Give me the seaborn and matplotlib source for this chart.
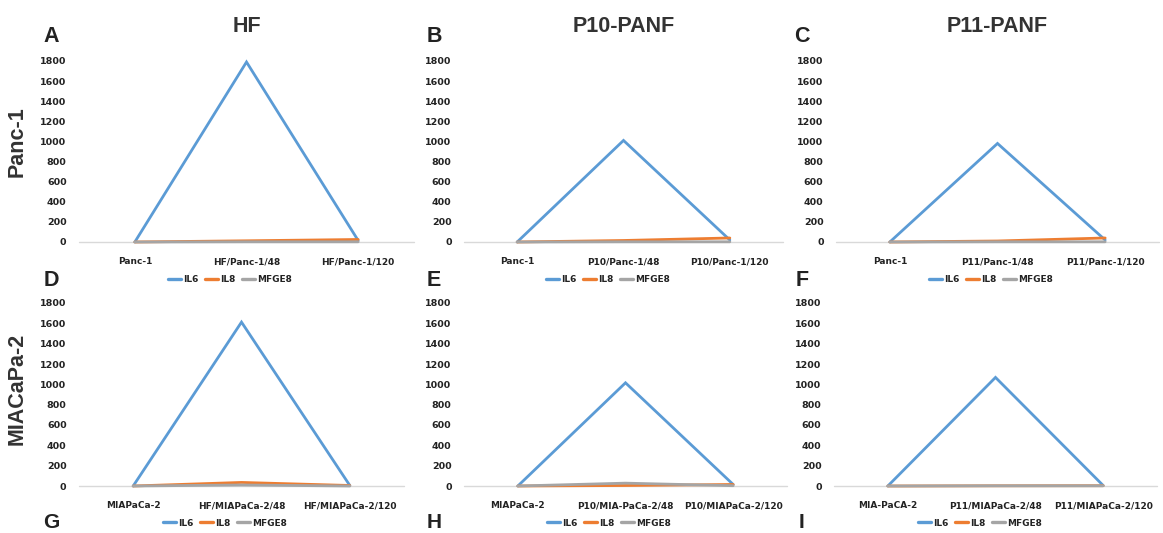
import numpy as np
import pandas as pd
import matplotlib
matplotlib.use("Agg")
import matplotlib.pyplot as plt
import seaborn as sns
from matplotlib.lines import Line2D

sns.set_style("white")
plt.rcParams['font.family'] = ['DejaVu Sans']

W, H = 1163, 533

cytokines = ["IL6", "IL8", "MFGE8"]
colors = ["#5B9BD5", "#ED7D31", "#A5A5A5"]

conds_A = ["Panc-1", "HF/Panc-1/48", "HF/Panc-1/120"]
conds_B = ["Panc-1", "P10/Panc-1/48", "P10/Panc-1/120"]
conds_C = ["Panc-1", "P11/Panc-1/48", "P11/Panc-1/120"]
conds_D = ["MIAPaCa-2", "HF/MIAPaCa-2/48", "HF/MIAPaCa-2/120"]
conds_E = ["MIAPaCa-2", "P10/MIA-PaCa-2/48", "P10/MIAPaCa-2/120"]
conds_F = ["MIA-PaCA-2", "P11/MIAPaCa-2/48", "P11/MIAPaCa-2/120"]

il6_A = [0, 1790, 15]
il8_A = [0, 12, 25]
mfge8_A = [0, 2, 2]
il6_B = [0, 1010, 20]
il8_B = [0, 15, 40]
mfge8_B = [0, 2, 2]
il6_C = [0, 980, 20]
il8_C = [0, 10, 40]
mfge8_C = [0, 2, 2]
il6_D = [0, 1612, 5]
il8_D = [0, 35, 5]
mfge8_D = [0, 10, 0]
il6_E = [0, 1015, 15]
il8_E = [0, 5, 15]
mfge8_E = [0, 28, 3]
il6_F = [0, 1068, 5]
il8_F = [0, 2, 3]
mfge8_F = [0, 2, 2]

col_titles = ["HF", "P10-PANF", "P11-PANF"]
row_titles = ["Panc-1", "MIACaPa-2"]
panel_letters = ["A", "B", "C", "D", "E", "F"]
legend_letters = ["D", "E", "F", "G", "H", "I"]
yticks = list(range(0, 1801, 200))

panels = [
    (conds_A, il6_A, il8_A, mfge8_A),
    (conds_B, il6_B, il8_B, mfge8_B),
    (conds_C, il6_C, il8_C, mfge8_C),
    (conds_D, il6_D, il8_D, mfge8_D),
    (conds_E, il6_E, il8_E, mfge8_E),
    (conds_F, il6_F, il8_F, mfge8_F),
]

# axes boxes in pixels: (left, right, top, bottom)
boxes = [
    (79, 414, 61, 242), (464, 783, 61, 242), (836, 1159, 61, 242),
    (79, 404, 303, 486), (464, 787, 303, 486), (834, 1157, 303, 486),
]
legend_x = [230, 608, 991, 225, 609, 980]
legend_y = [280, 280, 280, 523, 523, 523]
letter_x = [51, 434, 802]
letter_y = [36, 36, 36]

fig = plt.figure(figsize=(W / 100, H / 100), dpi=100)
txt = "#333333"
hfont = ['Liberation Sans', 'DejaVu Sans']

for i, ((conds, a, b, c), box) in enumerate(zip(panels, boxes)):
    l, r, t, btm = box
    ax = fig.add_axes([l / W, 1 - btm / H, (r - l) / W, (btm - t) / H])
    df = pd.DataFrame({
        "cond": conds * 3,
        "value": a + b + c,
        "cytokine": sum([[k] * 3 for k in cytokines], []),
    })
    ax.axhline(0, color="#D9D9D9", lw=1.0, zorder=0)
    sns.lineplot(data=df, x="cond", y="value", hue="cytokine", hue_order=cytokines,
                 palette=colors, sort=False, lw=2.0, ax=ax, legend=False)
    for ln in ax.lines:
        ln.set_clip_on(False)
        ln.set_solid_joinstyle("miter")
    ax.set_xlim(-0.5, 2.5)
    ax.set_ylim(0, 1800)
    ax.set_yticks(yticks)
    ax.set_yticklabels([str(v) for v in yticks], fontsize=6.8, fontweight="bold", color="#222222")
    ax.set_xticks(range(3))
    ax.set_xticklabels(conds, fontsize=6.5, fontweight="bold", color="#222222")
    ax.tick_params(axis="both", length=0)
    ax.tick_params(axis="y", pad=9)
    ax.tick_params(axis="x", pad=11)
    ax.set_xlabel("")
    ax.set_ylabel("")
    for s in ax.spines.values():
        s.set_visible(False)
    ax.patch.set_alpha(0)

    handles = [Line2D([0], [0], color=col, lw=2.4) for col in colors]
    fig.legend(handles, cytokines, loc="center", ncol=3,
               bbox_to_anchor=(legend_x[i] / W, 1 - legend_y[i] / H),
               frameon=False, prop={"size": 6.5, "weight": "bold"},
               handlelength=1.4, handletextpad=0.2, columnspacing=0.8, labelcolor="#222222")

    if i < 3:
        fig.text(((l + r) / 2) / W, 1 - 27 / H, col_titles[i], ha="center", va="center",
                 fontsize=15.5, fontweight="bold", color=txt, family=hfont)
        fig.text(letter_x[i] / W, 1 - letter_y[i] / H, panel_letters[i], ha="center", va="center",
                 fontsize=15.5, fontweight="bold", color="#222222", family=hfont)

# letters between/under rows
for j in range(3):
    fig.text(letter_x[j] / W, 1 - 280 / H, legend_letters[j], ha="center", va="center",
             fontsize=15.5, fontweight="bold", color="#222222", family=hfont)
    fig.text(letter_x[j] / W, 1 - 523 / H, legend_letters[j + 3], ha="center", va="center",
             fontsize=15, fontweight="bold", color="#222222", family=hfont)

fig.text(17 / W, 1 - 142 / H, row_titles[0], rotation=90, ha="center", va="center",
         fontsize=15.5, fontweight="bold", color=txt, family=hfont)
fig.text(17 / W, 1 - 389 / H, row_titles[1], rotation=90, ha="center", va="center",
         fontsize=15.5, fontweight="bold", color=txt, family=hfont)

fig.savefig("out.png", dpi=100, facecolor="white")
